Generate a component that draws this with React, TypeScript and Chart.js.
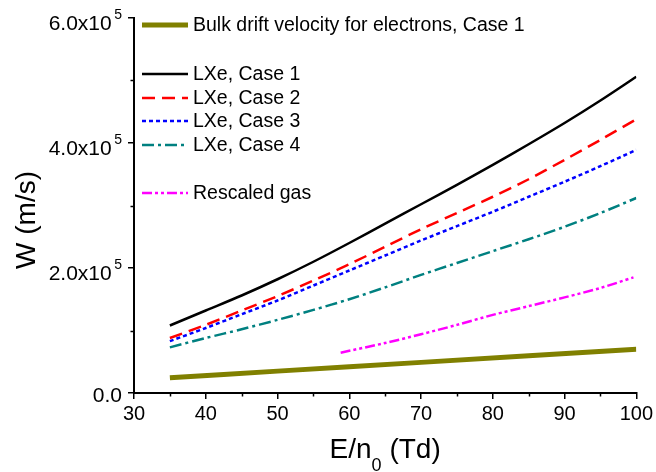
import React, { useEffect, useRef } from "react";
import { Chart, registerables } from "chart.js";

Chart.register(...registerables);

// ---- data ----
const caseX = [35, 40, 45, 50, 55, 60, 65, 70, 75, 80, 85, 90, 95, 100];
const lxeCase1 = [108000, 132000, 156000, 182000, 210000, 240000, 271000, 302000, 333000, 365000, 398000, 432000, 468000, 506000];
const lxeCase2 = [88000, 109000, 132000, 155000, 180000, 206000, 234000, 262000, 288000, 314000, 342000, 373000, 405000, 438000];
const lxeCase3 = [83000, 104000, 126000, 148000, 172000, 196000, 220000, 244000, 267000, 290000, 314000, 338000, 363000, 389000];
const lxeCase4 = [73000, 88000, 102000, 117000, 133000, 150000, 169000, 189000, 208000, 227000, 246000, 266000, 288000, 312000];
const gasX = [58.8, 65, 70, 75, 80, 85, 90, 95, 99.6];
const rescaledGas = [64500, 80000, 94000, 109000, 125000, 139000, 153000, 168000, 185000];
const bulkX = [35, 50, 70, 100];
const bulkCase1 = [24500, 35000, 49000, 70000];

const xMin = 30;
const xMax = 100;
const xStep = 10;
const xMinorTicks = [35, 45, 55, 65, 75, 85, 95];
const yMin = 0;
const yMax = 600000;
const yTickValues = [0, 200000, 400000, 600000];
const yTickMantissas = ["0.0", "2.0", "4.0", "6.0"];
const yTickExponent = "5";
const yMinorTicks = [100000, 300000, 500000];

const legendLabels = [
  "Bulk drift velocity for electrons, Case 1",
  "LXe, Case 1",
  "LXe, Case 2",
  "LXe, Case 3",
  "LXe, Case 4",
  "Rescaled gas",
];

const FONT = "'Liberation Sans', Arial, Helvetica, sans-serif";

const pts = (xs: number[], ys: number[]) => xs.map((x, i) => ({ x, y: ys[i] }));

const customPlugin = {
  id: "customDecor",
  afterDraw(chart: any) {
    const ctx = chart.ctx as CanvasRenderingContext2D;
    const xs = chart.scales.x;
    const ys = chart.scales.y;
    const area = chart.chartArea;
    ctx.save();
    ctx.strokeStyle = "#000";
    ctx.lineWidth = 1.5;
    // minor ticks
    xMinorTicks.forEach((v) => {
      const px = Math.round(xs.getPixelForValue(v)) + 0.5;
      ctx.beginPath();
      ctx.moveTo(px, area.bottom);
      ctx.lineTo(px, area.bottom + 3.5);
      ctx.stroke();
    });
    yMinorTicks.forEach((v) => {
      const py = Math.round(ys.getPixelForValue(v)) + 0.5;
      ctx.beginPath();
      ctx.moveTo(area.left, py);
      ctx.lineTo(area.left - 3.5, py);
      ctx.stroke();
    });

    // y tick labels with superscript
    ctx.fillStyle = "#000";
    const R = 122;
    yTickValues.forEach((v, i) => {
      const py = ys.getPixelForValue(v);
      ctx.textAlign = "right";
      ctx.textBaseline = "alphabetic";
      if (v === 0) {
        ctx.font = `21px ${FONT}`;
        ctx.fillText(yTickMantissas[i], R, py + 8.5);
      } else {
        ctx.font = `14px ${FONT}`;
        const supW = ctx.measureText(yTickExponent).width;
        ctx.fillText(yTickExponent, R, py + 1);
        ctx.font = `21px ${FONT}`;
        ctx.fillText(yTickMantissas[i] + "x10", R - supW - 2.5, py + 12);
      }
    });

    // y axis title
    ctx.save();
    ctx.translate(27, 220);
    ctx.rotate(-Math.PI / 2);
    ctx.font = `28px ${FONT}`;
    ctx.textAlign = "center";
    ctx.textBaseline = "middle";
    ctx.fillText("W (m/s)", 0, 0);
    ctx.restore();

    // x axis title with subscript
    ctx.font = `28px ${FONT}`;
    const partA = "E/n";
    const partB = " (Td)";
    const wA = ctx.measureText(partA).width;
    const wB = ctx.measureText(partB).width;
    ctx.font = `18px ${FONT}`;
    const wS = ctx.measureText("0").width;
    const total = wA + wS + wB;
    const cx = (area.left + area.right) / 2;
    const sx = cx - total / 2;
    const base = 458;
    ctx.textAlign = "left";
    ctx.textBaseline = "alphabetic";
    ctx.font = `28px ${FONT}`;
    ctx.fillText(partA, sx, base);
    ctx.font = `18px ${FONT}`;
    ctx.fillText("0", sx + wA, base + 13);
    ctx.font = `28px ${FONT}`;
    ctx.fillText(partB, sx + wA + wS, base);

    // legend
    const rowY = [25, 74, 98, 121, 145, 193];
    const order = [5, 0, 1, 2, 3, 4];
    order.forEach((di, r) => {
      const ds = chart.data.datasets[di];
      const y = rowY[r];
      ctx.save();
      ctx.strokeStyle = ds.borderColor;
      ctx.lineWidth = ds.borderWidth;
      ctx.setLineDash(ds.borderDash || []);
      ctx.lineCap = "butt";
      ctx.beginPath();
      ctx.moveTo(142, y);
      ctx.lineTo(188, y);
      ctx.stroke();
      ctx.restore();
      ctx.fillStyle = "#000";
      ctx.font = `19.5px ${FONT}`;
      ctx.textAlign = "left";
      ctx.textBaseline = "middle";
      ctx.fillText(legendLabels[r], 193, y + 1);
    });
    ctx.restore();
  },
};

export default function App() {
  const ref = useRef<HTMLCanvasElement | null>(null);
  useEffect(() => {
    if (!ref.current) return;
    const chart = new Chart(ref.current, {
      type: "line",
      data: {
        datasets: [
          { label: legendLabels[1], data: pts(caseX, lxeCase1), borderColor: "#000000", borderWidth: 2.5, borderDash: [], pointRadius: 0, tension: 0.3, fill: false },
          { label: legendLabels[2], data: pts(caseX, lxeCase2), borderColor: "#ff0000", borderWidth: 2.5, borderDash: [13, 7], pointRadius: 0, tension: 0.3, fill: false },
          { label: legendLabels[3], data: pts(caseX, lxeCase3), borderColor: "#0000ff", borderWidth: 2.5, borderDash: [4, 3], pointRadius: 0, tension: 0.3, fill: false },
          { label: legendLabels[4], data: pts(caseX, lxeCase4), borderColor: "#008080", borderWidth: 2.5, borderDash: [12, 4, 3, 4], pointRadius: 0, tension: 0.3, fill: false },
          { label: legendLabels[5], data: pts(gasX, rescaledGas), borderColor: "#ff00ff", borderWidth: 2.5, borderDash: [10, 3, 3, 3, 3, 3], pointRadius: 0, tension: 0.3, fill: false },
          { label: legendLabels[0], data: pts(bulkX, bulkCase1), borderColor: "#808000", borderWidth: 5, borderDash: [], pointRadius: 0, tension: 0.3, fill: false },
        ],
      },
      options: {
        responsive: false,
        animation: false,
        layout: { padding: { left: 0, top: 18, right: 18, bottom: 0 } },
        plugins: { legend: { display: false }, tooltip: { enabled: false } },
        scales: {
          x: {
            type: "linear",
            min: xMin,
            max: xMax,
            ticks: { stepSize: xStep, color: "#000", font: { size: 20, family: FONT }, padding: 3, maxRotation: 0 },
            grid: { display: true, drawOnChartArea: false, drawTicks: true, tickLength: 6, color: "#000", lineWidth: 1.5 },
            border: { display: true, color: "#000", width: 2 },
            afterFit: (s: any) => { s.height = 79; },
          },
          y: {
            type: "linear",
            min: yMin,
            max: yMax,
            ticks: { stepSize: 200000, display: false },
            grid: { display: true, drawOnChartArea: false, drawTicks: true, tickLength: 6, color: "#000", lineWidth: 1.5 },
            border: { display: true, color: "#000", width: 2 },
            afterFit: (s: any) => { s.width = 134; },
          },
        },
      },
      plugins: [customPlugin],
    });
    return () => chart.destroy();
  }, []);
  return (
    <div style={{ position: "absolute", left: 0, top: 0, width: 656, height: 472, background: "#fff" }}>
      <canvas ref={ref} width={656} height={472} style={{ width: 656, height: 472 }} />
    </div>
  );
}
